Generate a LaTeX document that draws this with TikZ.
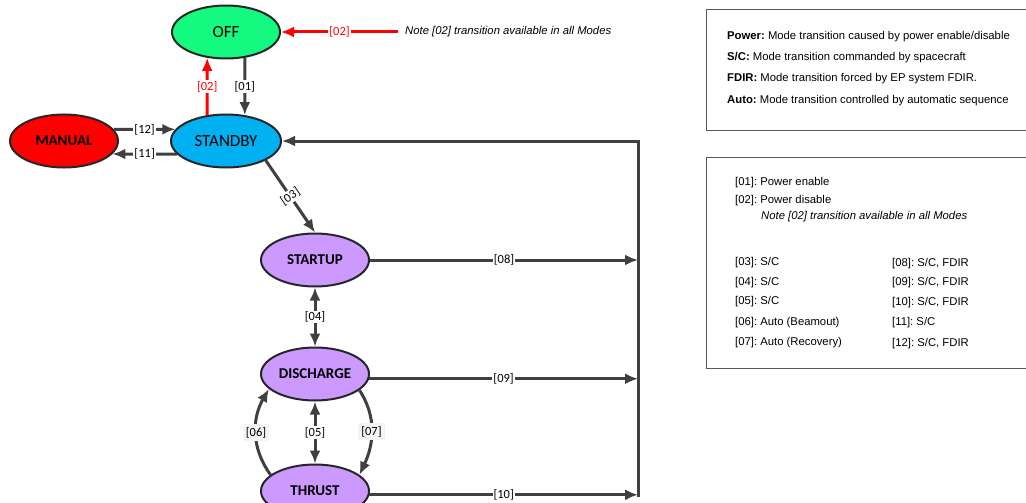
\documentclass[tikz,border=0pt]{standalone}
\usepackage{fontspec}
\setmainfont{Carlito}
\newfontfamily\arialfont{Liberation Sans}
\usetikzlibrary{shapes.geometric, arrows.meta}
\definecolor{offgreen}{RGB}{20,250,128}
\definecolor{sbyblue}{RGB}{0,176,240}
\definecolor{lilac}{RGB}{204,153,255}
\definecolor{arrowgray}{RGB}{64,64,64}
\definecolor{boxgray}{RGB}{89,89,89}
\frenchspacing

\begin{document}
\begin{tikzpicture}[
		x=1pt, y=1pt,
		mode/.style={ellipse, draw=black!85, line width=2pt, minimum width=108pt,
			minimum height=53pt, inner sep=0pt, font=\fontsize{17}{17}\selectfont},
		boldmode/.style={mode, font=\fontsize{15}{15}\selectfont\bfseries},
		tr/.style={draw=arrowgray, line width=3pt, -{Latex[length=13pt,width=11pt]}},
		both/.style={tr, {Latex[length=13pt,width=11pt]}-{Latex[length=13pt,width=11pt]}},
		pw/.style={tr, draw=red},
		lbl/.style={fill=white, inner sep=1pt, font=\fontsize{12.5}{12.5}\selectfont},
		shade/.style={lbl, fill=gray!9, inner sep=3pt},
		legend/.style={anchor=west, inner sep=0pt, font=\arialfont\fontsize{11.3}{11.3}\selectfont},
		frame/.style={draw=boxgray, line width=1pt}]
		\useasboundingbox (0,0) rectangle (1026,-503);
		\clip (0,0) rectangle (1026,-503);

		\node[mode, fill=offgreen]     (off)       at (226,-32)  {OFF};
		\node[mode, fill=sbyblue, minimum width=110pt] (standby) at (226,-141) {STANDBY};
		\node[boldmode, fill=red]      (manual)    at (64,-141)  {MANUAL};
		\node[boldmode, fill=lilac]    (startup)   at (315,-260) {STARTUP};
		\node[boldmode, fill=lilac]    (discharge) at (315,-374) {DISCHARGE};
		\node[boldmode, fill=lilac]    (thrust)    at (315,-491) {THRUST};

		\node[legend, inner sep=7pt, font=\arialfont\itshape\fontsize{11.3}{11.3}\selectfont]
			(topnote) at (398,-32) {Note [02] transition available in all Modes};

		\draw[tr] (off.-54) -- (standby.54) node[midway, lbl] {[01]};
		\draw[pw] (standby.126) -- (off.-126) node[midway, lbl, text=red] {[02]};
		\draw[pw] (topnote.west) -- (off.east) node[midway, lbl, text=red] {[02]};
		\draw[tr] (manual.13) -- (standby.167) node[midway, lbl] {[12]};
		\draw[tr] (standby.195) -- (manual.-15) node[midway, lbl] {[11]};
		\draw[tr] (standby.-26) -- (startup.north) node[midway, lbl, rotate=34] {[03]};
		\draw[both] (startup.south) -- (discharge.north) node[midway, lbl] {[04]};
		\draw[both] (discharge.south) -- (thrust.north) node[midway, lbl] {[05]};
		\draw[tr] (thrust.160) to[out=126, in=240] node[shade] {[06]} (discharge.198);
		\draw[tr] (discharge.-20) to[out=-57, in=65] node[shade] {[07]} (thrust.20);

		% common return line to STANDBY
		\coordinate (bustop) at (638,-141);
		\coordinate (busbot) at (638,-497);
		\draw[tr] (startup.east) -- (startup.east -| bustop) node[midway, lbl] {[08]};
		\draw[tr] (discharge.-5) -- (discharge.-5 -| bustop) node[midway, lbl] {[09]};
		\draw[tr] (thrust.-4) -- (thrust.-4 -| bustop) node[midway, lbl] {[10]};
		\draw[tr] (busbot) -- (bustop) -- (standby.east);

		\draw[frame] (706,-10) rectangle (1040,-130);
		\node[legend] (kpower) at (727,-37)  {\textbf{Power:} Mode transition caused by power enable/disable};
		\node[legend] (ksc)    at (727,-58)  {\textbf{S/C:} Mode transition commanded by spacecraft};
		\node[legend] (kfdir)  at (727,-79)  {\textbf{FDIR:} Mode transition forced by EP system FDIR.};
		\node[legend] (kauto)  at (727,-101) {\textbf{Auto:} Mode transition controlled by automatic sequence};

		\draw[frame] (706,-157) rectangle (1040,-368);
		\node[legend] (k01) at (735,-183) {[01]: Power enable};
		\node[legend] (k02) at (735,-201) {[02]: Power disable};
		\node[legend, font=\arialfont\itshape\fontsize{11.3}{11.3}\selectfont]
			(knote) at (761,-217) {Note [02] transition available in all Modes};
		\node[legend] (k03) at (735,-263) {[03]: S/C};
		\node[legend] (k04) at (735,-283) {[04]: S/C};
		\node[legend] (k05) at (735,-302) {[05]: S/C};
		\node[legend] (k06) at (735,-323) {[06]: Auto (Beamout)};
		\node[legend] (k07) at (735,-343) {[07]: Auto (Recovery)};
		\node[legend] (k08) at (892,-264) {[08]: S/C, FDIR};
		\node[legend] (k09) at (892,-283) {[09]: S/C, FDIR};
		\node[legend] (k10) at (892,-303) {[10]: S/C, FDIR};
		\node[legend] (k11) at (892,-323) {[11]: S/C};
		\node[legend] (k12) at (892,-344) {[12]: S/C, FDIR};
\end{tikzpicture}
\end{document}
